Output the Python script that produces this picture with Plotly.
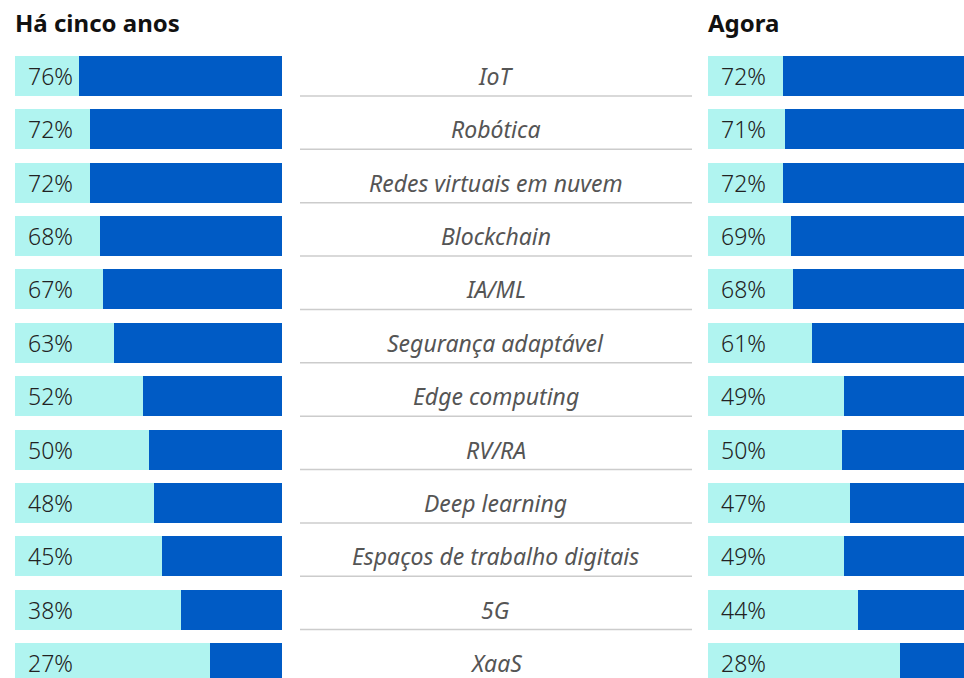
import plotly.graph_objects as go

categories = ["IoT", "Robótica", "Redes virtuais em nuvem", "Blockchain", "IA/ML",
              "Segurança adaptável", "Edge computing", "RV/RA", "Deep learning",
              "Espaços de trabalho digitais", "5G", "XaaS"]
antes = [76, 72, 72, 68, 67, 63, 52, 50, 48, 45, 38, 27]
agora = [72, 71, 72, 69, 68, 61, 49, 50, 47, 49, 44, 28]
titulo_esq = "Há cinco anos"
titulo_dir = "Agora"

W, H = 964, 678
LIGHT = "#B0F4F0"
DARK = "#005BC5"
FONT = "Noto Sans"

pitch = 53.36
first_center = 76
bar_px = 40
bw = bar_px / pitch
y_top = -first_center / pitch
y_bot = (H - first_center) / pitch

left_x0, left_x1 = 15, 282
right_x0 = 708
full_w = left_x1 - left_x0
right_range = 100 * (W - right_x0) / full_w
mid_x0, mid_x1 = 300, 692

fig = go.Figure()

for data, xa in [(antes, "x"), (agora, "x2")]:
    fig.add_trace(go.Bar(y=categories, x=[100 - v for v in data], orientation="h",
                         marker=dict(color=LIGHT, line=dict(width=0)), width=bw,
                         xaxis=xa, yaxis="y", hoverinfo="skip", showlegend=False))
    fig.add_trace(go.Bar(y=categories, x=data, orientation="h",
                         marker=dict(color=DARK, line=dict(width=0)), width=bw,
                         xaxis=xa, yaxis="y", hoverinfo="skip", showlegend=False))

annotations = []
for i, c in enumerate(categories):
    for data, xa in [(antes, "x"), (agora, "x2")]:
        annotations.append(dict(x=0, y=c, xref=xa, yref="y", text=f"{data[i]}%",
                                showarrow=False, xanchor="left", yanchor="middle",
                                xshift=11, font=dict(family=FONT, size=23, color="#222222", weight=300)))
    annotations.append(dict(x=(mid_x0 + mid_x1) / 2 / W, y=c, xref="paper", yref="y", text=c,
                            showarrow=False, xanchor="center", yanchor="middle",
                            font=dict(family=FONT, size=23, color="#555555", style="italic")))

for txt, x0 in [(titulo_esq, left_x0), (titulo_dir, right_x0)]:
    annotations.append(dict(x=x0 / W, y=1 - 23 / H, xref="paper", yref="paper", text=txt,
                            showarrow=False, xanchor="left", yanchor="middle", xshift=-2,
                            font=dict(family=FONT, size=24, color="#111111", weight="bold")))

shapes = []
for i in range(len(categories)):
    shapes.append(dict(type="line", xref="paper", yref="y", x0=mid_x0 / W, x1=mid_x1 / W,
                       y0=i + bw / 2, y1=i + bw / 2, line=dict(color="#CCCCCC", width=1.5)))

fig.update_layout(
    width=W, height=H, margin=dict(l=0, r=0, t=0, b=0),
    paper_bgcolor="white", plot_bgcolor="rgba(0,0,0,0)",
    barmode="stack", bargap=0,
    xaxis=dict(domain=[left_x0 / W, left_x1 / W], range=[0, 100], visible=False, fixedrange=True),
    xaxis2=dict(domain=[right_x0 / W, 1], range=[0, right_range], visible=False, anchor="y", fixedrange=True),
    yaxis=dict(domain=[0, 1], range=[y_bot, y_top], visible=False, categoryorder="array",
               categoryarray=categories, fixedrange=True),
    annotations=annotations, shapes=shapes,
)

fig.write_html("out.html", config={"displayModeBar": False},
               post_script="document.body.style.margin='0';document.body.style.overflow='hidden';")
